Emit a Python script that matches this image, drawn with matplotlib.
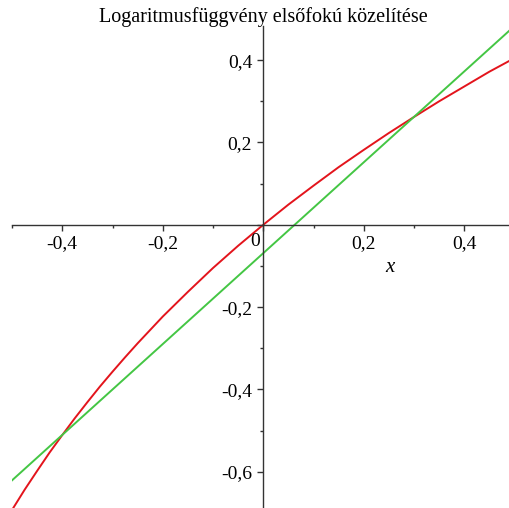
"""
Linear approximation of ln(1+x), Maple-style axes through the origin.
"""

import matplotlib
matplotlib.use("Agg")
import matplotlib.pyplot as plt
from matplotlib.ticker import MultipleLocator, FuncFormatter

# red curve: ln(1+x)
x_curve = [-0.500, -0.475, -0.450, -0.425, -0.400, -0.375, -0.350, -0.325, -0.300, -0.275,
           -0.25, -0.20, -0.15, -0.10, -0.05, 0.00,
           0.05, 0.10, 0.15, 0.20, 0.25, 0.30, 0.35, 0.40, 0.45, 0.50]
y_curve = [-0.693, -0.644, -0.598, -0.553, -0.511, -0.470, -0.431, -0.393, -0.357, -0.322,
           -0.288, -0.223, -0.163, -0.105, -0.051, 0.000,
           0.049, 0.095, 0.140, 0.182, 0.223, 0.262, 0.300, 0.336, 0.372, 0.405]

# green line: secant through x=-0.4 and x=0.3
x_line = [-0.5, 0.5]
y_line = [-0.621, 0.483]

title = "Logaritmusfüggvény elsőfokú közelítése"

red = "#e3141c"
green = "#44c644"
axis_col = "#333333"

plt.rcParams["font.family"] = ["Liberation Serif", "DejaVu Serif"]

fig = plt.figure(figsize=(5.09, 5.08), dpi=100)
ax = fig.add_axes([12 / 509, -2 / 508, 502.5 / 509, 484 / 508])

ax.plot(x_curve, y_curve, color=red, lw=1.4)
ax.plot(x_line, y_line, color=green, lw=1.4)

ax.set_xlim(-0.5, 0.5)
ax.set_ylim(-0.693, 0.483)

# axes through origin
for side in ["top", "right"]:
    ax.spines[side].set_visible(False)
ax.spines["left"].set_position(("data", 0))
ax.spines["bottom"].set_position(("data", 0))
for side in ["left", "bottom"]:
    ax.spines[side].set_color(axis_col)
    ax.spines[side].set_linewidth(1.0)

def fmt(v, pos):
    if abs(v) < 1e-9:
        return ""
    return ("%.1f" % v).replace(".", ",")

for axis in [ax.xaxis, ax.yaxis]:
    axis.set_major_locator(MultipleLocator(0.2))
    axis.set_minor_locator(MultipleLocator(0.1))
    axis.set_major_formatter(FuncFormatter(fmt))

ax.tick_params(which="major", length=4, width=1.0, color=axis_col, labelsize=14, direction="out")
ax.tick_params(which="minor", length=2.5, width=1.0, color=axis_col, direction="out")
ax.tick_params(axis="x", pad=3.5)
ax.tick_params(axis="y", pad=4)

ax.text(-0.016, -0.041, "0", fontsize=14, ha="center", va="center")
ax.text(0.251, -0.104, "x", fontsize=15, style="italic", ha="center", va="center")

fig.text(263 / 509, 1 - 17 / 508, title, fontsize=14.5, ha="center", va="center")

fig.savefig("out.png", dpi=100)
